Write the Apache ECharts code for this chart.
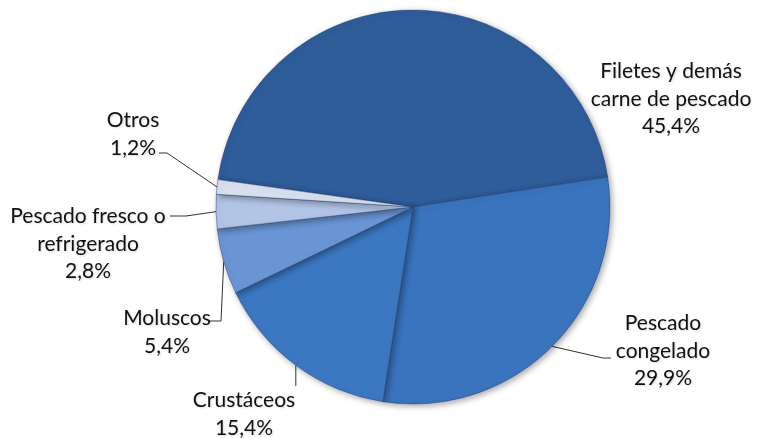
<!DOCTYPE html>
<html>
<head>
<meta charset="utf-8">
<script src="https://cdn.jsdelivr.net/npm/echarts@6/dist/echarts.min.js"></script>
<style>
html,body{margin:0;padding:0;background:#fff;}
#chart{width:761px;height:438px;}
</style>
</head>
<body>
<div id="chart"></div>
<script>
// ---- data ----
var categories = [
  'Filetes y demás\ncarne de pescado',
  'Pescado\ncongelado',
  'Crustáceos',
  'Moluscos',
  'Pescado fresco o\nrefrigerado',
  'Otros'
];
var values = [45.4, 29.9, 15.4, 5.4, 2.8, 1.2];
var colors = ['#2F5D9A', '#3A74BE', '#3C77C2', '#6A95D5', '#B2C5E6', '#D9E0EF'];

// ---- label layout (text anchor + elbow of leader line) ----
var labelPos = [
  {x: 671, y: 99, align: 'center', line: false},
  {x: 663, y: 351, align: 'center', elbow: [603, 358], end: [611, 358]},
  {x: 244, y: 414, align: 'center', elbow: null, end: [295, 386]},
  {x: 167, y: 332, align: 'center', elbow: [221, 321], end: [209, 321]},
  {x: 88, y: 244, align: 'center', elbow: [186, 216], end: [170, 216]},
  {x: 133, y: 134, align: 'center', elbow: [167, 153], end: [159, 153]}
];

var chart = echarts.init(document.getElementById('chart'), null, {renderer: 'canvas'});
chart.setOption({
  animation: false,
  backgroundColor: '#ffffff',
  series: [{
    type: 'pie',
    center: [413, 207],
    radius: 197,
    startAngle: 172,
    clockwise: true,
    avoidLabelOverlap: false,
    data: categories.map(function (c, i) {
      return {name: c, value: values[i], itemStyle: {color: colors[i]}};
    }),
    itemStyle: {
      borderColor: 'rgba(30,60,110,0.55)',
      borderWidth: 0.8,
      shadowBlur: 6,
      shadowOffsetX: 2,
      shadowOffsetY: 2,
      shadowColor: 'rgba(0,0,0,0.35)'
    },
    label: {
      show: true,
      position: 'outside',
      fontFamily: 'Lato, "Open Sans", sans-serif',
      fontSize: 21,
      lineHeight: 27.5,
      color: '#111',
      textShadowColor: 'rgba(0,0,0,0.15)',
      textShadowBlur: 2,
      textShadowOffsetX: 1,
      textShadowOffsetY: 1,
      formatter: function (p) {
        return p.name + '\n' + p.value.toFixed(1).replace('.', ',') + '%';
      }
    },
    labelLine: {
      show: true,
      lineStyle: {color: '#333', width: 1}
    },
    labelLayout: function (params) {
      var L = labelPos[params.dataIndex];
      var res = {x: L.x, y: L.y, align: L.align, verticalAlign: 'middle'};
      var start = params.labelLinePoints ? params.labelLinePoints[0] : null;
      if (L.line === false || !start) {
        res.labelLinePoints = start ? [start, start, start] : undefined;
      } else if (L.elbow) {
        res.labelLinePoints = [start, L.elbow, L.end];
      } else {
        res.labelLinePoints = [start, [start[0], L.end[1]], [start[0], L.end[1]]];
      }
      return res;
    }
  }]
});
</script>
</body>
</html>
